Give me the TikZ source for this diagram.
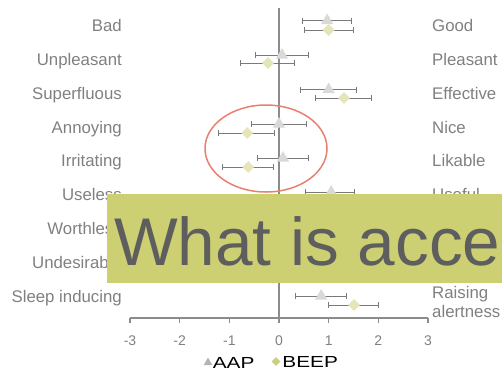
\documentclass[tikz,border=0pt]{standalone}
\usepackage{fontspec}
\setmainfont{Liberation Sans}
\newfontfamily\keyfont[FakeStretch=1.3]{Liberation Sans}
\usetikzlibrary{positioning, shapes.geometric, arrows.meta}

\definecolor{wordgray}{HTML}{808080}
\definecolor{axisgray}{HTML}{8C8C8C}
\definecolor{errgray}{HTML}{7A7A7A}
\definecolor{aapfill}{HTML}{D9D9D9}
\definecolor{beepfill}{HTML}{E4E5B8}
\definecolor{aapkeyfill}{HTML}{B4B4B4}
\definecolor{beepkeyfill}{HTML}{CBCE7C}
\definecolor{ringred}{HTML}{E8806E}
\definecolor{boxolive}{HTML}{CDCF73}
\definecolor{boxtext}{HTML}{5E5E5E}

\begin{document}
\begin{tikzpicture}[x=1pt, y=-1pt,
    wordlbl/.style = {text=wordgray, font=\fontsize{16.8}{19}\selectfont, inner sep=0pt},
    ticklbl/.style = {text=wordgray, font=\fontsize{14}{16}\selectfont, inner sep=0pt},
    keytext/.style = {font=\keyfont\fontsize{16}{19}\selectfont, inner sep=0pt},
    errbar/.style  = {draw=errgray, line width=1pt,
                      {Bar[width=6pt,line width=1pt]}-{Bar[width=6pt,line width=1pt]}},
    aap/.style     = {regular polygon, regular polygon sides=3, fill=aapfill,
                      minimum size=14pt, inner sep=0pt},
    beep/.style    = {diamond, aspect=1, fill=beepfill, minimum width=12pt,
                      minimum height=12pt, inner sep=0pt}]

    \useasboundingbox (0,0) rectangle (502,373);
    \clip (0,0) rectangle (502,373);

    % Item words
    \foreach \n/\y/\lw in {1/31/Bad, 2/65/Unpleasant, 3/99/Superfluous,
        4/133/Annoying, 5/166/Irritating, 6/200/Useless, 7/234/Worthless,
        8/268/Undesirable, 9/302/Sleep inducing}
        \node [wordlbl, anchor=base east] (l\n) at (122,\y) {\lw};
    \foreach \n/\y/\rw in {1/31/Good, 2/65/Pleasant, 3/99/Effective,
        4/133/Nice, 5/166/Likable, 6/200/Useful}
        \node [wordlbl, anchor=base west] (r\n) at (432,\y) {\rw};
    \node [wordlbl, anchor=west, align=left] (r9) at (432,301.5) {Raising\\alertness};

    % Scale and data
    \begin{scope}[shift={(279,0)}, x=49.65pt]
        \draw [axisgray, line width=2.5pt] (0,8) -- (0,318);
        \draw [axisgray, line width=1.2pt] (-3,318) -- (3,318);
        \foreach \t in {-3,...,3} {
            \draw [axisgray, line width=1.2pt] (\t,318) -- (\t,323);
            \node [ticklbl, anchor=base] (t\t) at (\t,345.5) {\t};
        }

        % AAP
        \foreach \n/\y/\m/\lo/\hi in {1/20.5/0.97/0.46/1.47, 2/55/0.06/-0.49/0.60,
            3/89.5/1.00/0.42/1.57, 4/124/0.00/-0.56/0.57, 5/158/0.08/-0.45/0.60,
            6/192/1.05/0.53/1.53, 9/296/0.85/0.32/1.37} {
            \draw [errbar] (\lo,\y) -- (\hi,\y);
            \node [aap] (a\n) at (\m,\y) {};
        }
        % BEEP
        \foreach \n/\y/\m/\lo/\hi in {1/30/1.00/0.50/1.51, 2/63/-0.22/-0.78/0.32,
            3/98/1.31/0.73/1.87, 4/133/-0.64/-1.23/-0.08, 5/167/-0.62/-1.15/-0.10,
            9/305/1.51/0.99/2.01} {
            \draw [errbar] (\lo,\y) -- (\hi,\y);
            \node [beep] (b\n) at (\m,\y) {};
        }
    \end{scope}

    % Highlight
    \draw [ringred, line width=1.5pt] (266,148.5) ellipse [x radius=61pt, y radius=43.5pt];

    % Legend
    \node [regular polygon, regular polygon sides=3, fill=aapkeyfill,
           minimum size=10pt, inner sep=0pt] (keyaap) at (208,362.5) {};
    \node [keytext, right=1.5pt of keyaap] (keyaaptxt) {AAP};
    \node [diamond, aspect=1, fill=beepkeyfill, minimum width=9pt,
           minimum height=9pt, inner sep=0pt] (keybeep) at (276,361.5) {};
    \node [keytext, right=1.5pt of keybeep] (keybeeptxt) {BEEP};

    % Title banner
    \fill [boxolive] (107,194) rectangle (520,283);
    \node [text=boxtext, font=\fontsize{67.5}{80}\selectfont, inner sep=0pt,
           anchor=base west] (banner) at (114,265) {What is acce};
\end{tikzpicture}
\end{document}
